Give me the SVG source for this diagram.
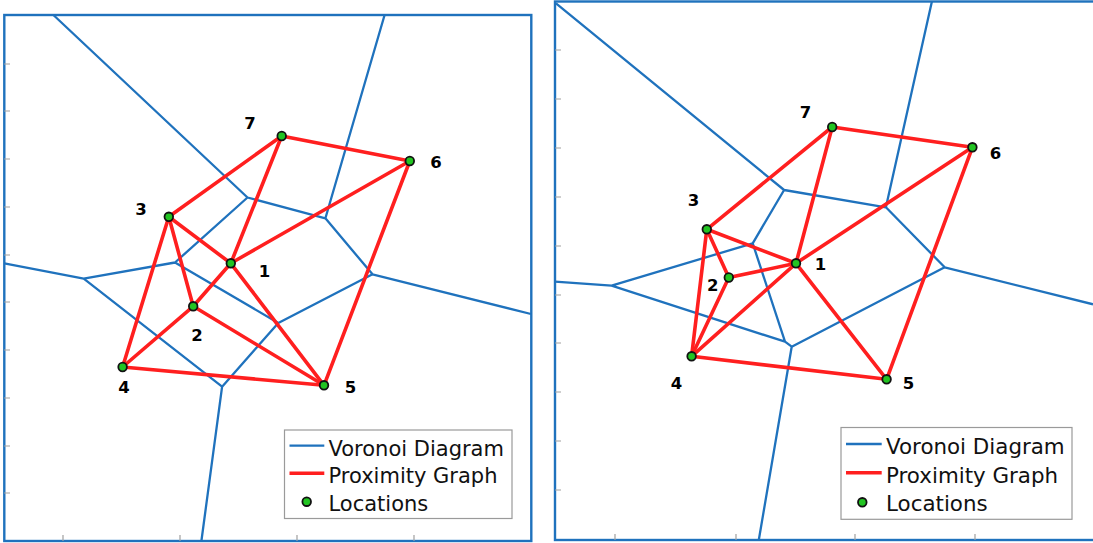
<svg xmlns="http://www.w3.org/2000/svg" width="1093" height="543" viewBox="0 0 1093 543">
<style>
.frame{fill:none;stroke:#1f72bd;stroke-width:2.4}
.tick{stroke:#a0a0a0;stroke-width:1.2}
.vor{fill:none;stroke:#1f72bd;stroke-width:2.3;stroke-linejoin:round}
.edge{stroke:#ff1f1f;stroke-width:3.6;stroke-linecap:round}
.loc{fill:#22c422;stroke:#111;stroke-width:1.8}
.lab{font-family:"DejaVu Sans",sans-serif;font-weight:bold;font-size:16.5px;fill:#000;text-anchor:middle}
.leg{fill:#fff;stroke:#9a9a9a;stroke-width:1.2}
.legt{font-family:"DejaVu Sans",sans-serif;font-size:21px;fill:#111}
</style>
<rect width="1093" height="543" fill="#fff"/>

<!-- LEFT PANEL -->
<g id="left-axes">
<rect class="frame" x="4.3" y="15" width="527" height="526"/>
<path class="tick" d="M4 64h6M4 111h6M4 159h6M4 207h6M4 255h6M4 302h6M4 350h6M4 398h6M4 446h6M4 493h6M63 541v-6M180 541v-6M297 541v-6M414 541v-6"/>
</g>
<g id="left-voronoi">
<path class="vor" d="M53.4 15L247.5 197.5L325.4 218.3L384.6 15M247.5 197.5L175 262.5L83.7 278.7L4.3 263.3M325.4 218.3L372.5 274.3L531 314M175 262.5L278.3 323L372.5 274.3M278.3 323L222.1 386.7L83.7 278.7M222.1 386.7L201.4 541"/>
</g>
<g id="left-edges">
<line class="edge" x1="281.7" y1="136" x2="409.8" y2="161"/>
<line class="edge" x1="281.7" y1="136" x2="168.8" y2="216.8"/>
<line class="edge" x1="281.7" y1="136" x2="230.8" y2="263.3"/>
<line class="edge" x1="409.8" y1="161" x2="230.8" y2="263.3"/>
<line class="edge" x1="409.8" y1="161" x2="324" y2="385.3"/>
<line class="edge" x1="168.8" y1="216.8" x2="230.8" y2="263.3"/>
<line class="edge" x1="168.8" y1="216.8" x2="193.2" y2="306.3"/>
<line class="edge" x1="168.8" y1="216.8" x2="122.6" y2="367"/>
<line class="edge" x1="230.8" y1="263.3" x2="193.2" y2="306.3"/>
<line class="edge" x1="230.8" y1="263.3" x2="324" y2="385.3"/>
<line class="edge" x1="193.2" y1="306.3" x2="122.6" y2="367"/>
<line class="edge" x1="193.2" y1="306.3" x2="324" y2="385.3"/>
<line class="edge" x1="122.6" y1="367" x2="324" y2="385.3"/>
</g>
<g id="left-n1"><circle class="loc" cx="230.8" cy="263.3" r="4.3"/><text class="lab" x="264.5" y="277.3">1</text></g>
<g id="left-n2"><circle class="loc" cx="193.2" cy="306.3" r="4.3"/><text class="lab" x="197" y="341.3">2</text></g>
<g id="left-n3"><circle class="loc" cx="168.8" cy="216.8" r="4.3"/><text class="lab" x="141" y="215.3">3</text></g>
<g id="left-n4"><circle class="loc" cx="122.6" cy="367" r="4.3"/><text class="lab" x="124" y="393.3">4</text></g>
<g id="left-n5"><circle class="loc" cx="324" cy="385.3" r="4.3"/><text class="lab" x="350.5" y="393.3">5</text></g>
<g id="left-n6"><circle class="loc" cx="409.8" cy="161" r="4.3"/><text class="lab" x="436" y="168.3">6</text></g>
<g id="left-n7"><circle class="loc" cx="281.7" cy="136" r="4.3"/><text class="lab" x="250" y="129.3">7</text></g>
<g id="left-legend">
<rect class="leg" x="284.5" y="430" width="227.5" height="88.5"/>
<line x1="289.5" y1="445.7" x2="324.3" y2="445.7" stroke="#1f72bd" stroke-width="2.3"/>
<line x1="289.5" y1="473.3" x2="324.3" y2="473.3" stroke="#ff1f1f" stroke-width="3.6"/>
<circle class="loc" cx="306.7" cy="501.7" r="4.3"/>
<text class="legt" x="328.5" y="455.7">Voronoi Diagram</text>
<text class="legt" x="328.5" y="482.7">Proximity Graph</text>
<text class="legt" x="328.5" y="510.7">Locations</text>
</g>

<!-- RIGHT PANEL -->
<g id="right-axes">
<rect class="frame" x="555" y="1.5" width="560" height="538.5"/>
<path class="tick" d="M555 50h6M555 99h6M555 148h6M555 197h6M555 246h6M555 295h6M555 343h6M555 392h6M555 441h6M555 490h6M615 540v-6M736 540v-6M855 540v-6M975 540v-6"/>
</g>
<g id="right-voronoi">
<path class="vor" d="M556 3.3L784.1 190L885.9 207.3L931.9 1.5M784.1 190L752.7 243.3L611.6 285.7L555 281.7M752.7 243.3L785 341.7L611.6 285.7M785 341.7L791.7 346.7L944.7 267.3L1093 304.3M885.9 207.3L944.7 267.3M791.7 346.7L758.8 540"/>
</g>
<g id="right-edges">
<line class="edge" x1="832.2" y1="127" x2="972.4" y2="147.3"/>
<line class="edge" x1="832.2" y1="127" x2="706.8" y2="229.3"/>
<line class="edge" x1="832.2" y1="127" x2="796" y2="263.3"/>
<line class="edge" x1="972.4" y1="147.3" x2="796" y2="263.3"/>
<line class="edge" x1="972.4" y1="147.3" x2="886.6" y2="379.3"/>
<line class="edge" x1="706.8" y1="229.3" x2="796" y2="263.3"/>
<line class="edge" x1="706.8" y1="229.3" x2="728.8" y2="277.5"/>
<line class="edge" x1="706.8" y1="229.3" x2="691.6" y2="356.3"/>
<line class="edge" x1="728.8" y1="277.5" x2="796" y2="263.3"/>
<line class="edge" x1="728.8" y1="277.5" x2="691.6" y2="356.3"/>
<line class="edge" x1="796" y1="263.3" x2="691.6" y2="356.3"/>
<line class="edge" x1="796" y1="263.3" x2="886.6" y2="379.3"/>
<line class="edge" x1="691.6" y1="356.3" x2="886.6" y2="379.3"/>
</g>
<g id="right-n1"><circle class="loc" cx="796" cy="263.3" r="4.3"/><text class="lab" x="820.4" y="270.3">1</text></g>
<g id="right-n2"><circle class="loc" cx="728.8" cy="277.5" r="4.3"/><text class="lab" x="712.7" y="291.3">2</text></g>
<g id="right-n3"><circle class="loc" cx="706.8" cy="229.3" r="4.3"/><text class="lab" x="693.4" y="206.3">3</text></g>
<g id="right-n4"><circle class="loc" cx="691.6" cy="356.3" r="4.3"/><text class="lab" x="676.4" y="388.8">4</text></g>
<g id="right-n5"><circle class="loc" cx="886.6" cy="379.3" r="4.3"/><text class="lab" x="908.4" y="388.8">5</text></g>
<g id="right-n6"><circle class="loc" cx="972.4" cy="147.3" r="4.3"/><text class="lab" x="995.6" y="158.8">6</text></g>
<g id="right-n7"><circle class="loc" cx="832.2" cy="127" r="4.3"/><text class="lab" x="805.5" y="118.3">7</text></g>
<g id="right-legend">
<rect class="leg" x="841" y="427.5" width="231" height="91.8"/>
<line x1="846" y1="444" x2="881.7" y2="444" stroke="#1f72bd" stroke-width="2.3"/>
<line x1="846" y1="472.7" x2="881.7" y2="472.7" stroke="#ff1f1f" stroke-width="3.6"/>
<circle class="loc" cx="862.3" cy="502.3" r="4.3"/>
<text class="legt" x="886" y="453.5" style="font-size:21.4px">Voronoi Diagram</text>
<text class="legt" x="886" y="482.5" style="font-size:21.4px">Proximity Graph</text>
<text class="legt" x="886" y="511" style="font-size:21.4px">Locations</text>
</g>
</svg>
